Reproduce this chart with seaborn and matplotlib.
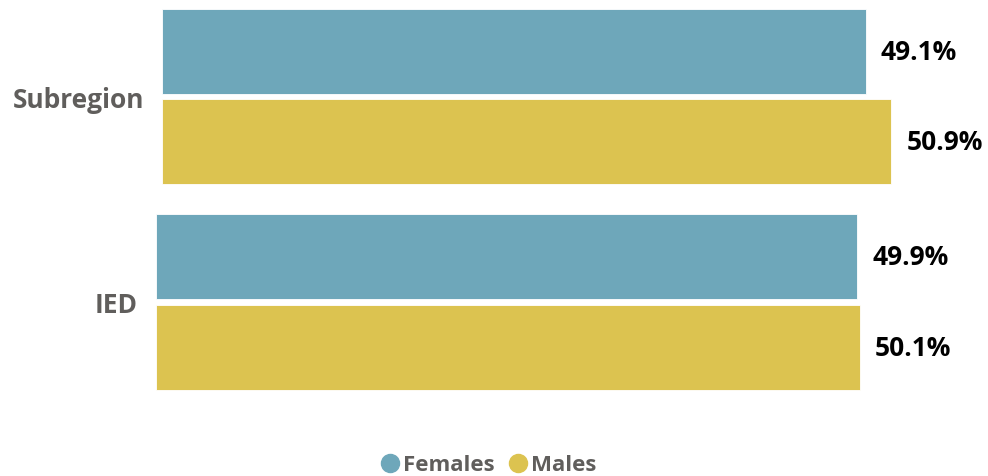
import numpy as np
import pandas as pd
import matplotlib
matplotlib.use("Agg")
import matplotlib.pyplot as plt
from matplotlib.lines import Line2D
import seaborn as sns

# data
groups = ["Subregion", "IED"]
genders = ["Females", "Males"]
subregion_pct = [49.1, 50.9]
ied_pct = [49.9, 50.1]

colors = {"Females": "#6EA7BA", "Males": "#DCC350"}
grey = "#605E5C"

sns.set_theme(style="white")
plt.rcParams["font.family"] = ["Open Sans", "DejaVu Sans"]

W, H = 988, 477
fig = plt.figure(figsize=(W / 100, H / 100), dpi=100)


def px_axes(left, top, width, height):
    # pixel box (top-left origin) -> figure fraction
    return fig.add_axes([left / W, (H - top - height) / H, width / W, height / H])


def draw_group(ax, name, values, xmax):
    df = pd.DataFrame({"group": [name] * len(genders), "gender": genders, "pct": values})
    sns.barplot(data=df, x="pct", y="group", hue="gender", hue_order=genders,
                palette=colors, width=1.0, gap=0.06, ax=ax, legend=False,
                saturation=1, edgecolor="white", linewidth=0.6)
    ax.set_xlim(0, xmax)
    ax.set_ylim(0.5, -0.5)
    ax.set_xlabel("")
    ax.set_ylabel("")
    ax.set_xticks([])
    ax.tick_params(axis="y", length=0, pad=13)
    for lbl in ax.get_yticklabels():
        lbl.set_fontsize(19)
        lbl.set_fontweight("bold")
        lbl.set_color(grey)
    for cont in ax.containers:
        ax.bar_label(cont, fmt="%.1f%%", padding=11, fontsize=19,
                     fontweight="bold", color="black")
    sns.despine(ax=ax, left=True, bottom=True)


# each group is its own visual with its own scale
ax1 = px_axes(162, 7, 57 * 14.33, 181)
draw_group(ax1, groups[0], subregion_pct, 57)

ax2 = px_axes(156, 212.5, 57 * 14.05, 181)
draw_group(ax2, groups[1], ied_pct, 57)

handles = [Line2D([0], [0], marker="o", linestyle="", markersize=13,
                  markerfacecolor=colors[g], markeredgecolor=colors[g], label=g)
           for g in genders]
leg = fig.legend(handles=handles, loc="center", bbox_to_anchor=(488 / W, 1 - 466 / H),
                 ncol=2, frameon=False, handlelength=0.9, handletextpad=0.15,
                 columnspacing=0.6, prop={"size": 16, "weight": "bold"})
for t in leg.get_texts():
    t.set_color(grey)

fig.savefig("out.png", dpi=100)
